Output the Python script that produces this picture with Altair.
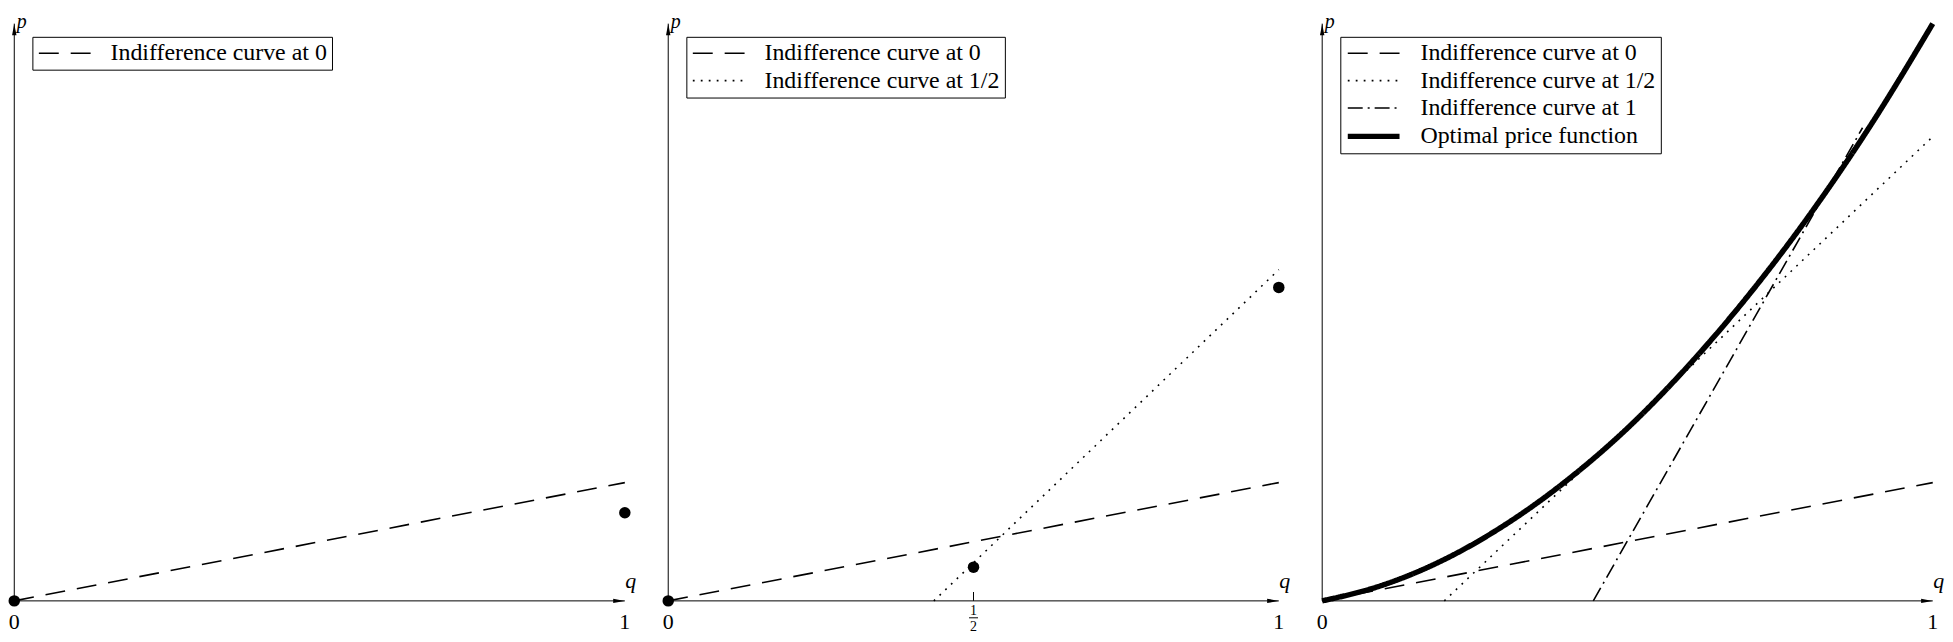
import altair as alt
import pandas as pd

# ---------------- data ----------------
SERIES = ["Indifference curve at 0", "Indifference curve at 1/2",
          "Indifference curve at 1", "Optimal price function"]

ic0_q = [0.0, 1.0]
ic0_p = [0.0, 0.2]

ic_half_p2_q = [0.435, 1.0]
ic_half_p2_p = [0.0, 0.56]

ic_half_p3_q = [0.2, 1.0]
ic_half_p3_p = [0.0, 0.785]

ic1_q = [0.444, 0.885]
ic1_p = [0.0, 0.80]

opt_q = [0.0, 0.1, 0.2, 0.3, 0.4, 0.5, 0.6, 0.7, 0.8, 0.9, 1.0]
opt_p = [0.0, 0.027, 0.07, 0.129, 0.203, 0.292, 0.398, 0.519, 0.655, 0.807, 0.976]

dots1_q = [0.0, 1.0]
dots1_p = [0.0, 0.149]
dots2_q = [0.0, 0.5, 1.0]
dots2_p = [0.0, 0.057, 0.53]

tick_q = [0.0, 1.0]
tick_labels = ["0", "1"]
half_q = [0.5]
half_num = ["1"]
half_den = ["2"]
AXIS_TOP = 0.976

# ---------------- styling ----------------
FONT = "Liberation Serif"
DASH_RANGE = [[20, 12], [1.8, 6.2], [15, 5, 2, 5], [1, 0]]
WIDTH_RANGE = [1.6, 1.6, 1.6, 5.5]
PANEL_W = [656.6, 656.6, 624.0]
H = 612
PX_PER_Q = 613.4
ORIGIN_OFF = 5.3
ys = alt.Scale(domain=[-0.03, 1.0], nice=False, zero=False)


def xs(w):
    return alt.Scale(domain=[-ORIGIN_OFF / PX_PER_Q, (w - ORIGIN_OFF) / PX_PER_Q],
                     nice=False, zero=False)


def panel(w, lines, dots, half=False):
    sx = xs(w)
    X = lambda f: alt.X(f, scale=sx, axis=None)
    Y = lambda f: alt.Y(f, scale=ys, axis=None)

    rows = []
    for name, qs, ps in lines:
        for i, (q, p) in enumerate(zip(qs, ps)):
            rows.append({"series": name, "q": q, "p": p, "i": i})
    ldf = pd.DataFrame(rows)
    shown = [l[0] for l in lines]
    leg = alt.Legend(title=None, orient="none", legendX=23.5, legendY=27.5, values=shown,
                     symbolType="M-2.6,0H2.6", symbolSize=400, symbolOffset=16,
                     labelOffset=34, labelFont=FONT, labelFontSize=24,
                     labelColor="black", labelLimit=600, strokeColor="black",
                     fillColor="white", padding=4.5, rowPadding=3.5,
                     symbolStrokeColor="black")
    line_layer = alt.Chart(ldf).mark_line(color="black", interpolate="monotone").encode(
        x=X("q:Q"), y=Y("p:Q"), order="i:Q",
        strokeDash=alt.StrokeDash("series:N", scale=alt.Scale(type="ordinal", domain=SERIES, range=DASH_RANGE), legend=leg),
        strokeWidth=alt.StrokeWidth("series:N", scale=alt.Scale(type="ordinal", domain=SERIES, range=WIDTH_RANGE), legend=leg),
    )

    axdf = pd.DataFrame({"x": [0.0, 0.0], "x2": [1.0, 0.0], "y": [0.0, 0.0], "y2": [0.0, AXIS_TOP]})
    axes = alt.Chart(axdf).mark_rule(color="black", strokeWidth=1).encode(
        x=X("x:Q"), x2="x2:Q", y=Y("y:Q"), y2="y2:Q")
    arr_r = alt.Chart(pd.DataFrame({"q": [1.0], "p": [0.0]})).mark_point(
        shape="M0,0L-2,-0.38L-2,0.38Z", size=137, filled=True, color="black", opacity=1, strokeWidth=0
    ).encode(x=X("q:Q"), y=Y("p:Q"))
    arr_u = alt.Chart(pd.DataFrame({"q": [0.0], "p": [AXIS_TOP]})).mark_point(
        shape="M0,0L-0.38,2L0.38,2Z", size=137, filled=True, color="black", opacity=1, strokeWidth=0
    ).encode(x=X("q:Q"), y=Y("p:Q"))

    tdf = pd.DataFrame({"q": tick_q, "p": [0.0, 0.0], "t": tick_labels})
    ticks = alt.Chart(tdf).mark_text(font=FONT, fontSize=22, color="black", dy=28.5,
                                     baseline="alphabetic", align="center").encode(
        x=X("q:Q"), y=Y("p:Q"), text="t:N")
    qlab = alt.Chart(pd.DataFrame({"q": [1.0], "p": [0.0], "t": ["q"]})).mark_text(
        font=FONT, fontSize=22, fontStyle="italic", color="black", dx=6, dy=-13,
        baseline="alphabetic", align="center").encode(x=X("q:Q"), y=Y("p:Q"), text="t:N")
    plab = alt.Chart(pd.DataFrame({"q": [0.0], "p": [AXIS_TOP], "t": ["p"]})).mark_text(
        font=FONT, fontSize=20, fontStyle="italic", color="black", dx=2.5, dy=4.2,
        baseline="alphabetic", align="left").encode(x=X("q:Q"), y=Y("p:Q"), text="t:N")

    layers = [axes, arr_r, arr_u, line_layer]
    if dots:
        ddf = pd.DataFrame({"q": dots[0], "p": dots[1]})
        layers.append(alt.Chart(ddf).mark_circle(size=133, color="black", opacity=1).encode(
            x=X("q:Q"), y=Y("p:Q")))
    layers += [ticks, qlab, plab]
    if half:
        hdf = pd.DataFrame({"q": half_q, "p": [0.0], "n": half_num, "d": half_den})
        layers.append(alt.Chart(pd.DataFrame({"q": half_q, "p": [0.0], "p2": [0.015]})).mark_rule(
            color="black", strokeWidth=1).encode(x=X("q:Q"), y=Y("p:Q"), y2="p2:Q"))
        layers.append(alt.Chart(hdf).mark_text(font=FONT, fontSize=14, color="black", dy=14,
                                               baseline="alphabetic", align="center").encode(
            x=X("q:Q"), y=Y("p:Q"), text="n:N"))
        layers.append(alt.Chart(hdf).mark_tick(orient="horizontal", size=9, thickness=1,
                                               color="black", yOffset=17, opacity=1).encode(
            x=X("q:Q"), y=Y("p:Q")))
        layers.append(alt.Chart(hdf).mark_text(font=FONT, fontSize=14, color="black", dy=30.5,
                                               baseline="alphabetic", align="center").encode(
            x=X("q:Q"), y=Y("p:Q"), text="d:N"))
    return alt.layer(*layers).properties(width=w, height=H)


p1 = panel(PANEL_W[0], [(SERIES[0], ic0_q, ic0_p)], (dots1_q, dots1_p))
p2 = panel(PANEL_W[1], [(SERIES[0], ic0_q, ic0_p), (SERIES[1], ic_half_p2_q, ic_half_p2_p)],
           (dots2_q, dots2_p), half=True)
p3 = panel(PANEL_W[2], [(SERIES[0], ic0_q, ic0_p), (SERIES[1], ic_half_p3_q, ic_half_p3_p),
                        (SERIES[2], ic1_q, ic1_p), (SERIES[3], opt_q, opt_p)], None)

chart = alt.hconcat(p1, p2, p3, spacing=0, bounds="flush").resolve_scale(
    x="independent", y="independent", strokeDash="independent", strokeWidth="independent"
).resolve_legend(strokeDash="independent", strokeWidth="independent").properties(
    padding=0, background="white"
).configure_view(strokeWidth=0)

chart.save("out.html", embed_options={"renderer": "svg", "actions": False})
